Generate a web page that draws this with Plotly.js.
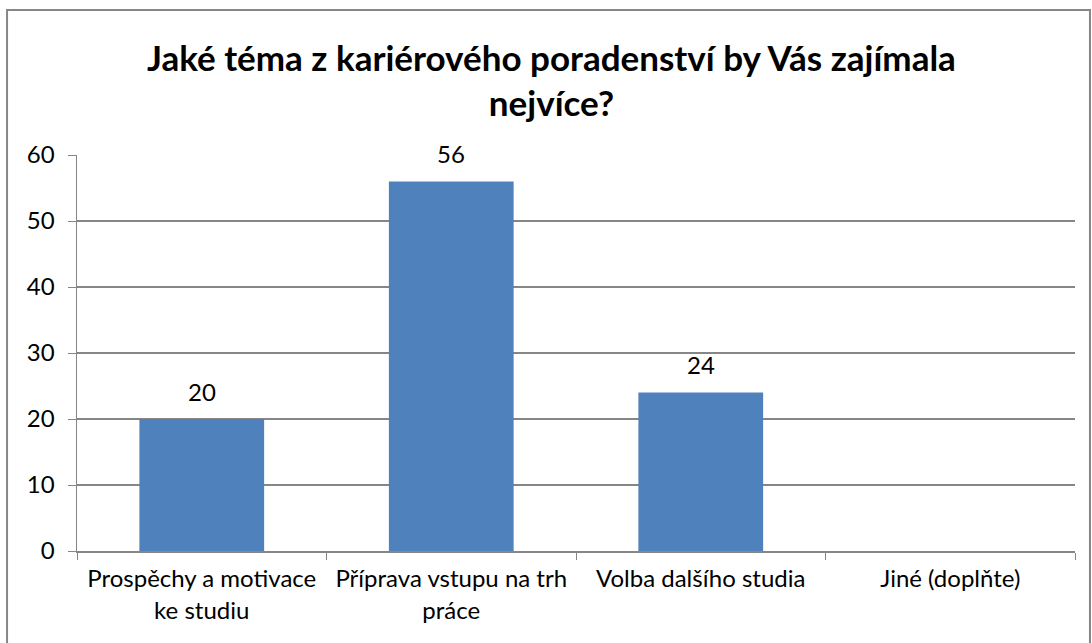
<!DOCTYPE html>
<html>
<head>
<meta charset="utf-8">
<script src="https://cdn.plot.ly/plotly-3.0.1.min.js"></script>
<style>html,body{margin:0;padding:0;background:#fff;}#chart{width:1092px;height:643px;}</style>
</head>
<body>
<div id="chart"></div>
<script>
const categories = ["Prospěchy a motivace<br>ke studiu", "Příprava vstupu na trh<br>práce", "Volba dalšího studia", "Jiné (doplňte)"];
const values = [20, 56, 24, null];
const yTicks = [0, 10, 20, 30, 40, 50, 60];
const titleText = "Jaké téma z kariérového poradenství by Vás zajímala<br>nejvíce?";

const font = "Lato, 'Open Sans', sans-serif";
const trace = {
  type: "bar",
  x: categories,
  y: values,
  marker: {color: "#4F81BD"},
  hoverinfo: "skip"
};
const labels = categories.map((c, i) => values[i] === null ? null : {
  x: c, y: values[i], xref: "x", yref: "y",
  text: String(values[i]), showarrow: false,
  yanchor: "middle", yshift: 28,
  font: {family: font, size: 24, color: "#000"}
}).filter(a => a);
const layout = {
  width: 1092, height: 643,
  margin: {l: 77, r: 17, t: 155, b: 92},
  paper_bgcolor: "#fff", plot_bgcolor: "#fff",
  showlegend: false,
  bargap: 0.5,
  title: {text: titleText, font: {family: font, size: 35, color: "#000", weight: "bold"}, x: 0.505, xanchor: "center", y: 0.89, yanchor: "top"},
  xaxis: {
    type: "category",
    showline: true, linecolor: "#868686", linewidth: 1.5,
    ticks: "outside", tickson: "boundaries", ticklen: 7, tickcolor: "#868686",
    tickfont: {family: font, size: 24, color: "#000"},
    tickangle: 0,
    ticklabelstandoff: 6,
    showgrid: false, zeroline: false, fixedrange: true
  },
  yaxis: {
    range: [0, 60], tickvals: yTicks,
    showline: true, linecolor: "#868686", linewidth: 1.5,
    ticks: "outside", ticklen: 8, tickcolor: "#868686",
    showgrid: true, gridcolor: "#868686", gridwidth: 1.2,
    zeroline: false,
    tickfont: {family: font, size: 24, color: "#000"},
    ticklabelstandoff: 8,
    fixedrange: true
  },
  annotations: labels,
  shapes: [{
    type: "rect", xref: "paper", yref: "paper",
    x0: -0.0701, x1: 1.0150, y0: -0.26, y1: 1.366,
    line: {color: "#868686", width: 2}, fillcolor: "rgba(0,0,0,0)", layer: "below"
  }]
};
Plotly.newPlot("chart", [trace], layout, {displayModeBar: false, staticPlot: true});
</script>
</body>
</html>
